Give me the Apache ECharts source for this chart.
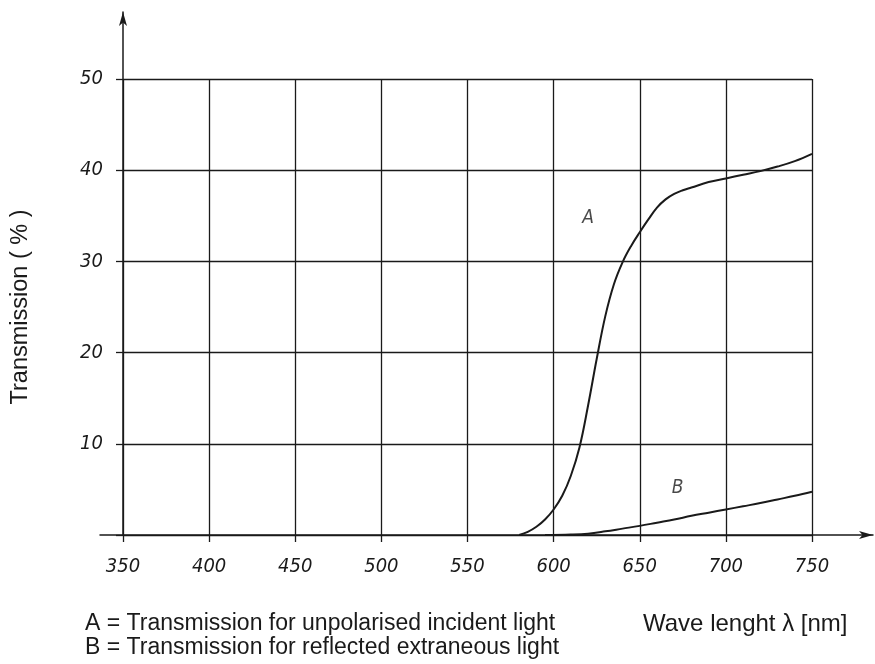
<!DOCTYPE html>
<html>
<head>
<meta charset="utf-8">
<script src="https://cdn.jsdelivr.net/npm/echarts@6/dist/echarts.min.js"></script>
<style>
  html, body { margin: 0; padding: 0; background: #fff; }
  #chart { width: 875px; height: 664px; }
</style>
</head>
<body>
<div id="chart"></div>
<script>
// Curve A: transmission for unpolarised incident light
const wavelengthA = [580, 585, 590, 595, 600, 605, 610, 615, 620, 625, 630, 635, 640, 645, 650, 655, 660, 665, 670, 675, 680, 690, 700, 710, 720, 730, 740, 750];
const transmissionA = [0, 0.35, 0.9, 1.7, 2.8, 4.3, 6.5, 9.6, 14.2, 19.3, 24.0, 27.5, 29.9, 31.7, 33.2, 34.6, 35.9, 36.8, 37.4, 37.8, 38.1, 38.7, 39.1, 39.5, 39.9, 40.4, 41.0, 41.8];

// Curve B: transmission for reflected extraneous light
const wavelengthB = [595, 610, 620, 630, 640, 650, 660, 670, 680, 690, 700, 710, 720, 730, 740, 750];
const transmissionB = [0, 0.05, 0.15, 0.4, 0.7, 1.0, 1.35, 1.7, 2.1, 2.45, 2.8, 3.15, 3.5, 3.9, 4.3, 4.75];

// Axis ranges and tick steps
const xTicks = { min: 350, max: 750, step: 50 };
const yTicks = { min: 0, max: 50, step: 10 };

// Curve names and where they are written (data coordinates)
const curveNames = ['A', 'B'];
const curveNameAt = [[620, 34.7], [672, 5.2]];

const legendLines = [
  'A = Transmission for unpolarised incident light',
  'B = Transmission for reflected extraneous light'
];
const xTitle = 'Wave lenght λ [nm]';
const yTitle = 'Transmission ( % )';

const ink = '#1a1a1a';
const drawFont = '"DejaVu Sans Condensed", "DejaVu Sans", sans-serif';
const textFont = '"Liberation Sans", Arial, sans-serif';
const tickFont = { fontFamily: drawFont, fontStyle: 'italic', fontSize: 20, color: ink };
const gridLine = { color: ink, width: 1.3 };
const captionStyle = { fontFamily: textFont, fontSize: 23, fontWeight: 'normal', color: ink, lineHeight: 24 };

const pairs = (xs, ys) => xs.map((x, i) => [x, ys[i]]);

const chart = echarts.init(document.getElementById('chart'), null, { renderer: 'canvas' });
chart.setOption({
  animation: false,
  backgroundColor: '#fff',
  title: [
    { text: legendLines.join('\n'), left: 85, top: 612, padding: 0, textStyle: captionStyle },
    { text: xTitle, left: 643, top: 612, padding: 0, textStyle: Object.assign({}, captionStyle, { fontSize: 24 }) }
  ],
  grid: [
    { left: 123, right: 63, top: 79, bottom: 129 },   // ruled plotting area
    { left: 100, right: 2, top: 12, bottom: 129 },    // long x axis with arrow
    { left: 123, width: 10, top: 12, bottom: 129 }    // long y axis with arrow
  ],
  xAxis: [
    {
      gridIndex: 0, type: 'value', min: xTicks.min, max: xTicks.max, interval: xTicks.step,
      axisLine: { show: false },
      axisTick: { show: true, length: 7, lineStyle: gridLine },
      splitLine: { show: true, lineStyle: gridLine },
      axisLabel: Object.assign({ margin: 22 }, tickFont)
    },
    {
      gridIndex: 1, type: 'value', min: 336.6, max: 785.6,
      axisLine: { show: true, onZero: false, symbol: ['none', 'arrow'], symbolSize: [6, 14], lineStyle: { color: ink, width: 1.5 } },
      axisTick: { show: false }, axisLabel: { show: false }, splitLine: { show: false }
    },
    { gridIndex: 2, type: 'value', min: 0, max: 1, show: false }
  ],
  yAxis: [
    {
      gridIndex: 0, type: 'value', min: yTicks.min, max: yTicks.max, interval: yTicks.step,
      axisLine: { show: false },
      axisTick: { show: true, length: 7, lineStyle: gridLine },
      splitLine: { show: true, lineStyle: gridLine },
      axisLabel: Object.assign({ margin: 20, formatter: v => (v === 0 ? '' : String(v)) }, tickFont),
      name: yTitle, nameLocation: 'middle', nameGap: 90,
      nameTextStyle: { fontFamily: textFont, fontSize: 23.5, color: ink }
    },
    { gridIndex: 1, type: 'value', min: 0, max: 1, show: false },
    {
      gridIndex: 2, type: 'value', min: 0, max: 57.3,
      axisLine: { show: true, onZero: false, symbol: ['none', 'arrow'], symbolSize: [6, 14], lineStyle: { color: ink, width: 1.5 } },
      axisTick: { show: false }, axisLabel: { show: false }, splitLine: { show: false }
    }
  ],
  series: [
    {
      type: 'line', xAxisIndex: 0, yAxisIndex: 0,
      data: pairs(wavelengthA, transmissionA),
      smooth: 0.4, showSymbol: false, silent: true,
      lineStyle: { color: ink, width: 2 }
    },
    {
      type: 'line', xAxisIndex: 0, yAxisIndex: 0,
      data: pairs(wavelengthB, transmissionB),
      smooth: 0.4, showSymbol: false, silent: true,
      lineStyle: { color: ink, width: 2 }
    },
    {
      type: 'scatter', xAxisIndex: 0, yAxisIndex: 0,
      symbolSize: 0, silent: true,
      data: curveNames.map((n, i) => ({ name: n, value: curveNameAt[i] })),
      label: {
        show: true, position: 'inside', formatter: p => p.name,
        fontFamily: drawFont, fontStyle: 'italic', fontSize: 19, color: ink
      }
    }
  ]
});
</script>
</body>
</html>
